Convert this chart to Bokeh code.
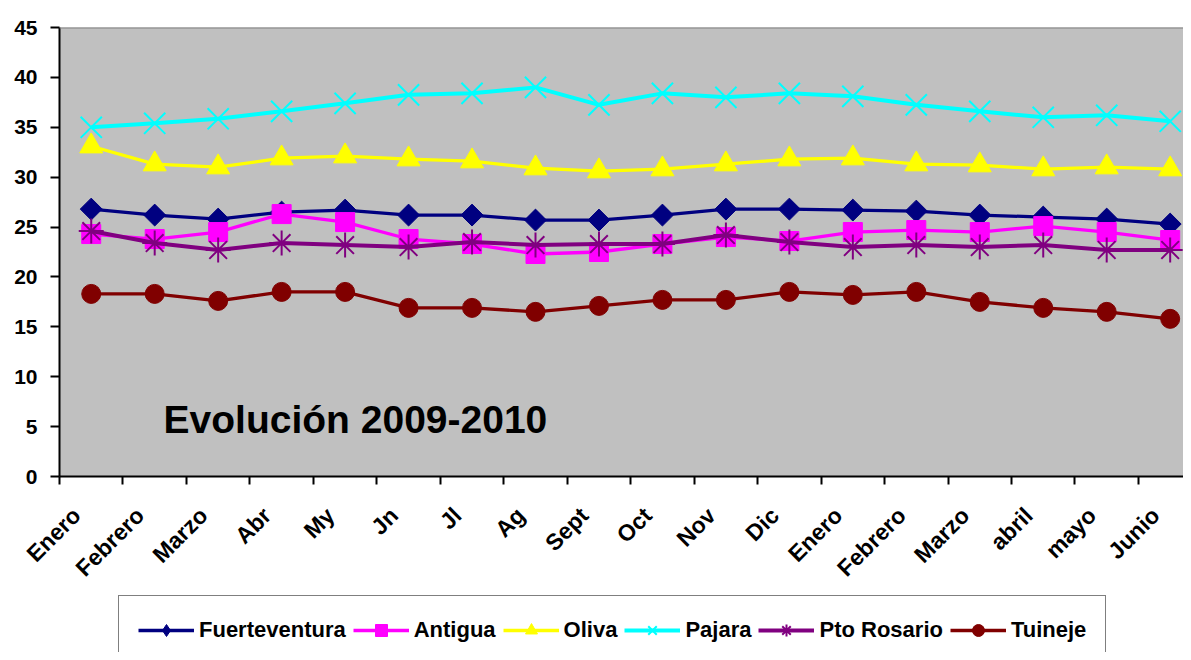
import numpy as np
from bokeh.plotting import figure
from bokeh.layouts import column
from bokeh.models import Range1d, FixedTicker, Legend, LegendItem, Span, Label
from bokeh.embed import file_html
from bokeh.resources import INLINE

months = ["Enero", "Febrero", "Marzo", "Abr", "My", "Jn", "Jl", "Ag", "Sept", "Oct",
          "Nov", "Dic", "Enero", "Febrero", "Marzo", "abril", "mayo", "Junio"]
fuerteventura = [26.8, 26.2, 25.8, 26.5, 26.7, 26.2, 26.2, 25.7, 25.7, 26.2, 26.8, 26.8,
                 26.7, 26.6, 26.2, 26.0, 25.8, 25.3]
antigua = [24.3, 23.8, 24.5, 26.3, 25.5, 23.8, 23.3, 22.3, 22.5, 23.3, 24.0, 23.6,
           24.5, 24.7, 24.5, 25.1, 24.5, 23.7]
oliva = [33.1, 31.3, 31.0, 31.9, 32.1, 31.8, 31.6, 30.9, 30.6, 30.8, 31.3, 31.8,
         31.9, 31.3, 31.2, 30.8, 31.0, 30.8]
pajara = [35.0, 35.4, 35.85, 36.6, 37.4, 38.25, 38.4, 39.0, 37.25, 38.4, 38.0, 38.4,
          38.1, 37.25, 36.6, 36.0, 36.2, 35.6]
pto_rosario = [24.6, 23.4, 22.7, 23.4, 23.2, 23.0, 23.5, 23.2, 23.3, 23.3, 24.2, 23.5,
               23.0, 23.2, 23.0, 23.2, 22.7, 22.7]
tuineje = [18.3, 18.3, 17.6, 18.5, 18.5, 16.9, 16.9, 16.5, 17.1, 17.7, 17.7, 18.5,
           18.2, 18.5, 17.5, 16.9, 16.5, 15.8]
y_ticks = [0, 5, 10, 15, 20, 25, 30, 35, 40, 45]

FONT = "Liberation Sans"
xs = [i + 0.5 for i in range(len(months))]

p = figure(width=1183, height=595, x_range=Range1d(0, 17.71), y_range=Range1d(0, 45),
           output_backend="svg", toolbar_location=None,
           min_border_left=59, min_border_right=0, min_border_top=27, min_border_bottom=119)
p.background_fill_color = "#C0C0C0"
p.border_fill_color = "white"
p.outline_line_color = None
p.grid.visible = False

# y axis
p.yaxis.ticker = FixedTicker(ticks=y_ticks, minor_ticks=[])
p.yaxis.axis_line_color = "black"
p.yaxis.axis_line_width = 2
p.yaxis.major_tick_out = 9
p.yaxis.major_tick_in = 0
p.yaxis.major_tick_line_width = 2
p.yaxis.major_tick_line_color = "black"
p.yaxis.minor_tick_out = 0
p.yaxis.minor_tick_in = 0
p.yaxis.major_label_text_font = FONT
p.yaxis.major_label_text_font_size = "21px"
p.yaxis.major_label_text_font_style = "bold"
p.yaxis.major_label_text_color = "black"
p.yaxis.major_label_standoff = 13

# x axis
label_pos = [x - 0.23 for x in xs]
p.xaxis.ticker = FixedTicker(ticks=label_pos, minor_ticks=list(range(0, len(months) + 1)))
p.xaxis.major_label_overrides = {x: m for x, m in zip(label_pos, months)}
p.xaxis.axis_line_color = "black"
p.xaxis.axis_line_width = 2
p.xaxis.major_tick_out = 0
p.xaxis.major_tick_in = 0
p.xaxis.minor_tick_out = 8
p.xaxis.minor_tick_in = 0
p.xaxis.minor_tick_line_width = 2
p.xaxis.minor_tick_line_color = "black"
p.xaxis.major_label_orientation = np.pi / 4
p.xaxis.major_label_standoff = 27
p.xaxis.major_label_text_font = FONT
p.xaxis.major_label_text_font_size = "23px"
p.xaxis.major_label_text_font_style = "bold"
p.xaxis.major_label_text_color = "black"

p.add_layout(Span(location=45, dimension="width", line_color="#808080", line_width=2))

# name, values, colour, marker (chart), marker (legend), size, angle, marker line, series line
specs = [
    ("Fuerteventura", fuerteventura, "#000080", "square", "diamond", 15.5, np.pi / 4, 1, 3.3),
    ("Antigua", antigua, "#FF00FF", "square", "square", 19, 0, 1, 3.3),
    ("Oliva", oliva, "#FFFF00", "triangle", "triangle", 23, 0, 1, 3.3),
    ("Pajara", pajara, "#00FFFF", "x", "x", 30, 0, 2, 4),
    ("Pto Rosario", pto_rosario, "#800080", "asterisk", "asterisk", 25, 0, 2, 4),
    ("Tuineje", tuineje, "#800000", "circle", "circle", 19, 0, 1, 3.3),
]

# legend strip below the chart (its own small figure; the copies of the series
# lie outside its ranges so only the legend shows)
p2 = figure(width=1183, height=57, x_range=Range1d(0, 1), y_range=Range1d(0, 1),
            output_backend="svg", toolbar_location=None,
            x_axis_type=None, y_axis_type=None,
            min_border_left=0, min_border_right=0, min_border_top=0, min_border_bottom=0)
p2.outline_line_color = None
p2.grid.visible = False
p2.background_fill_color = "white"
p2.border_fill_color = "white"

items = []
for name, vals, color, marker, lmarker, size, angle, lw, sw in specs:
    p.line(xs, vals, line_color=color, line_width=sw)
    p.scatter(xs, vals, marker=marker, size=size, angle=angle,
              fill_color=color, line_color=color, line_width=lw)
    l2 = p2.line(xs, vals, line_color=color, line_width=sw)
    s2 = p2.scatter(xs, vals, marker=lmarker, size=size,
                    fill_color=color, line_color=color, line_width=lw)
    items.append(LegendItem(label=name, renderers=[l2, s2]))

p.add_layout(Label(x=1.64, y=5.71, text="Evolución 2009-2010", text_font=FONT,
                   text_font_size="39px", text_font_style="bold",
                   text_baseline="middle", text_align="left", text_color="black"))

legend = Legend(items=items, orientation="horizontal", location=(59, -13),
                glyph_width=56, glyph_height=30, label_standoff=5, spacing=7,
                padding=19, label_height=30, margin=0,
                border_line_color="black", border_line_width=1,
                background_fill_color="white", background_fill_alpha=1,
                label_text_font=FONT, label_text_font_size="22px",
                label_text_font_style="bold", label_text_color="black")
p2.add_layout(legend)

layout = column(p, p2, spacing=0)
open("out.html", "w").write(file_html(layout, INLINE))
